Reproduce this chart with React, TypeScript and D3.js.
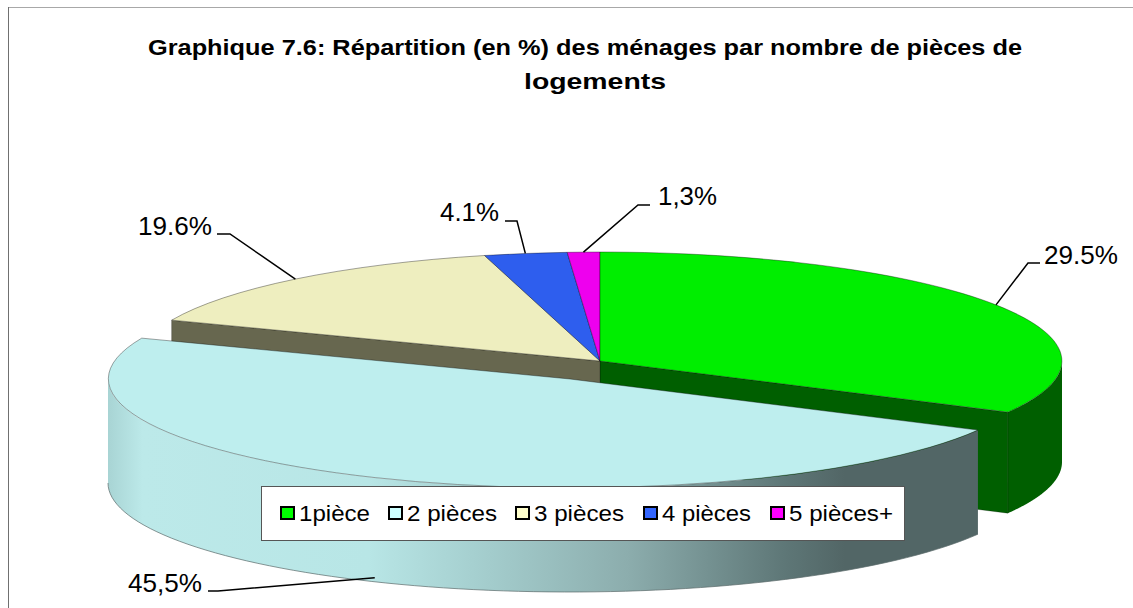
import React from "react";
import * as d3 from "d3";

// ---- data ----
const categories = ["1pièce", "2 pièces", "3 pièces", "4 pièces", "5 pièces+"];
const shares = [29.5, 45.5, 19.6, 4.1, 1.3];
const shareLabels = ["29.5%", "45,5%", "19.6%", "4.1%", "1,3%"];
const titleLines = [
  "Graphique 7.6: Répartition (en %) des ménages par nombre de pièces de",
  "logements",
];

// ---- styles ----
const topColors = ["#00EE00", "#BEEEEE", "#EEEEBF", "#2E5EEE", "#EE00EE"];
const legendColors = ["#00FF00", "#CCFFFF", "#FFFFCC", "#3366FF", "#FF00FF"];
const GREEN_SIDE = "#005F00";
const CREAM_SIDE = "#67674F";
const FONT = "'Liberation Sans', Arial, sans-serif";

// ---- layout ----
const W = 1133, H = 608;
const RX = 462, RY = 109, DEPTH = 101;
const CENTER = { x: 600, y: 361 };
const EXPLODED = { x: 570, y: 379 };
const EXPLODED_DEPTH = 104;
const deg = Math.PI / 180;
// Excel's perspective view compresses the back of the pie: apparent boundary angles of the slices.
const apparentAngles = [0, 118, 292, 345.5, 355.9, 360].map((d) => d * deg);

const labelLayout = [
  { x: 1044, y: 264, w: 74, knee: [1028, 263], start: [1040, 263] },
  { x: 128, y: 592, w: 74, knee: [218, 591], start: [208, 591] },
  { x: 138, y: 235, w: 74, knee: [230, 234], start: [217, 234] },
  { x: 440, y: 221, w: 59, knee: [517, 221], start: [505, 221] },
  { x: 658, y: 205, w: 59, knee: [638, 205], start: [650, 205] },
];
const legendLayout = [
  { sx: 281, tx: 299, w: 71 },
  { sx: 389, tx: 407, w: 90 },
  { sx: 516, tx: 534, w: 90 },
  { sx: 644, tx: 662, w: 89 },
  { sx: 771, tx: 789, w: 104 },
];

const pieGen = d3.pie<number>().sort(null).value((d) => d);
const cumulative = [0, ...d3.cumsum(shares)];
const warp = d3
  .scaleLinear()
  .domain(cumulative.map((c) => (c / d3.sum(shares)) * 2 * Math.PI))
  .range(apparentAngles);
const slices = pieGen(shares).map((s) => ({
  ...s,
  a0: warp(s.startAngle),
  a1: warp(s.endAngle),
}));

const unitArc = d3.arc<any>().innerRadius(0).outerRadius(1);
const rimX = (c: { x: number }, a: number) => c.x + RX * Math.sin(a);
const rimY = (c: { y: number }, a: number) => c.y - RY * Math.cos(a);

function sidePath(c: { x: number; y: number }, a0: number, a1: number, depth: number) {
  const n = 80;
  const angles = d3.range(n + 1).map((i) => a0 + ((a1 - a0) * i) / n);
  return d3
    .area<number>()
    .x((a) => rimX(c, a))
    .y0((a) => rimY(c, a))
    .y1((a) => rimY(c, a) + depth)(angles) as string;
}

function bottomRimPath(c: { x: number; y: number }, a0: number, a1: number, depth: number) {
  const n = 80;
  const angles = d3.range(n + 1).map((i) => a0 + ((a1 - a0) * i) / n);
  return d3
    .line<number>()
    .x((a) => rimX(c, a))
    .y((a) => rimY(c, a) + depth)(angles) as string;
}

function wallPath(c: { x: number; y: number }, a: number, depth: number) {
  const pts: [number, number][] = [
    [rimX(c, a), rimY(c, a)],
    [c.x, c.y],
  ];
  return d3
    .area<[number, number]>()
    .x((p) => p[0])
    .y0((p) => p[1])
    .y1((p) => p[1] + depth)(pts) as string;
}

const Top = ({ c, s, fill }: any) => (
  <path
    d={unitArc({ startAngle: s.a0, endAngle: s.a1 }) as string}
    transform={`translate(${c.x},${c.y}) scale(${RX},${RY})`}
    fill={fill}
    stroke="#000"
    strokeOpacity={0.45}
    strokeWidth={0.8}
    vectorEffect="non-scaling-stroke"
  />
);

const Txt = ({ x, y, w, size, bold, children }: any) => (
  <text
    x={x}
    y={y}
    fontFamily={FONT}
    fontSize={size}
    fontWeight={bold ? "bold" : "normal"}
    textLength={w}
    lengthAdjust="spacingAndGlyphs"
    fill="#000"
  >
    {children}
  </text>
);

export default function App() {
  const [green, lightBlue, cream, blue, magenta] = slices;
  const line = d3.line();
  const sideGrad = "sideGrad";
  return (
    <svg
      width={W}
      height={H}
      viewBox={`0 0 ${W} ${H}`}
      style={{ position: "absolute", left: 0, top: 0, display: "block", background: "#fff" }}
    >
      <defs>
        <linearGradient id={sideGrad} gradientUnits="userSpaceOnUse" x1={108} x2={975} y1={0} y2={0}>
          <stop offset="0" stopColor="#A8D4D4" />
          <stop offset="0.04" stopColor="#BCE9E9" />
          <stop offset="0.3" stopColor="#B8E6E6" />
          <stop offset="0.42" stopColor="#A6D0D0" />
          <stop offset="0.6" stopColor="#8CADAD" />
          <stop offset="0.78" stopColor="#5E7777" />
          <stop offset="0.85" stopColor="#526666" />
          <stop offset="1" stopColor="#526666" />
        </linearGradient>
      </defs>

      <line x1={8} x2={W} y1={7.5} y2={7.5} stroke="#A8A8A8" strokeWidth={1} />
      <line x1={8.5} x2={8.5} y1={7} y2={H} stroke="#707070" strokeWidth={1} />

      <Txt x={148} y={55} w={874} size={22.5} bold>{titleLines[0]}</Txt>
      <Txt x={524} y={89} w={142} size={22.5} bold>{titleLines[1]}</Txt>

      {/* walls and side of the pie body */}
      <path d={sidePath(CENTER, Math.PI / 2, green.a1, DEPTH)} fill={GREEN_SIDE} />
      <path d={wallPath(CENTER, green.a1, DEPTH)} fill={GREEN_SIDE} stroke="#000" strokeOpacity={0.4} strokeWidth={0.6} />
      <path d={wallPath(CENTER, cream.a0, DEPTH)} fill={CREAM_SIDE} stroke="#000" strokeOpacity={0.4} strokeWidth={0.6} />

      {/* top faces of the pie body */}
      <Top c={CENTER} s={cream} fill={topColors[2]} />
      <Top c={CENTER} s={blue} fill={topColors[3]} />
      <Top c={CENTER} s={magenta} fill={topColors[4]} />
      <Top c={CENTER} s={green} fill={topColors[0]} />

      {/* exploded slice */}
      <path
        d={sidePath(EXPLODED, lightBlue.a0, (3 * Math.PI) / 2, EXPLODED_DEPTH)}
        fill={`url(#${sideGrad})`}
      />
      <path
        d={bottomRimPath(EXPLODED, lightBlue.a0, (3 * Math.PI) / 2, EXPLODED_DEPTH)}
        fill="none"
        stroke="#5A6A6A"
        strokeOpacity={0.7}
        strokeWidth={1}
      />
      <Top c={EXPLODED} s={lightBlue} fill={topColors[1]} />

      {/* leaders and labels */}
      {slices.map((s, i) => {
        const mid = (s.a0 + s.a1) / 2;
        const c = i === 1 ? EXPLODED : CENTER;
        const dy = i === 1 ? EXPLODED_DEPTH - 4 : 0;
        const l = labelLayout[i];
        return (
          <g key={categories[i]}>
            <path
              d={line([
                l.start as [number, number],
                l.knee as [number, number],
                [rimX(c, mid), rimY(c, mid) + dy],
              ]) as string}
              fill="none"
              stroke="#000"
              strokeWidth={1.5}
            />
            <Txt x={l.x} y={l.y} w={l.w} size={25}>{shareLabels[i]}</Txt>
          </g>
        );
      })}

      {/* legend */}
      <rect x={261.5} y={486.5} width={643} height={54} fill="#fff" stroke="#555" strokeWidth={1} />
      {categories.map((c, i) => {
        const l = legendLayout[i];
        return (
          <g key={c}>
            <rect x={l.sx} y={507} width={13} height={12} fill={legendColors[i]} stroke="#000" strokeWidth={2} />
            <Txt x={l.tx} y={521} w={l.w} size={22.5}>{c}</Txt>
          </g>
        );
      })}
    </svg>
  );
}
